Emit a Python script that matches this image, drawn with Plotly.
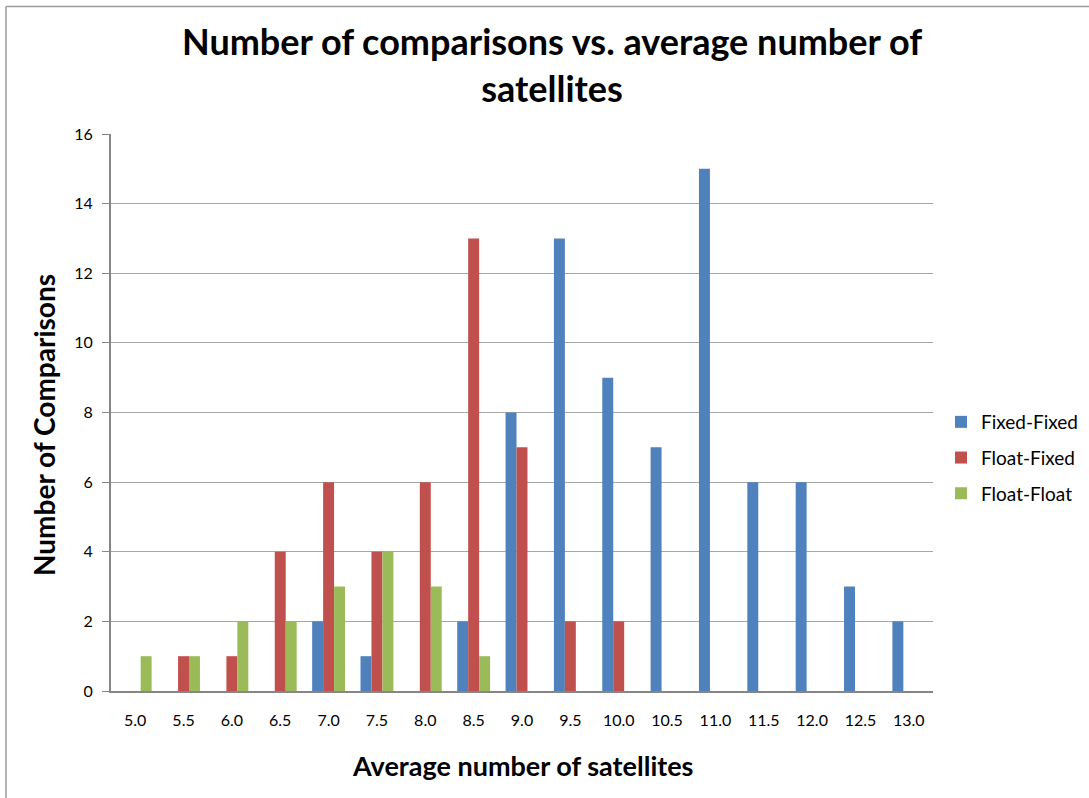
import plotly.graph_objects as go

categories = ["5.0", "5.5", "6.0", "6.5", "7.0", "7.5", "8.0", "8.5", "9.0",
              "9.5", "10.0", "10.5", "11.0", "11.5", "12.0", "12.5", "13.0"]
fixed_fixed = [0, 0, 0, 0, 2, 1, 0, 2, 8, 13, 9, 7, 15, 6, 6, 3, 2]
float_fixed = [0, 1, 1, 4, 6, 4, 6, 13, 7, 2, 2, 0, 0, 0, 0, 0, 0]
float_float = [1, 1, 2, 2, 3, 4, 3, 1, 0, 0, 0, 0, 0, 0, 0, 0, 0]
y_ticks = [0, 2, 4, 6, 8, 10, 12, 14, 16]

W, H = 1089, 798
L, R, T, B = 111, 933, 134, 691  # plot area in pixels

FONT = "Lato"

fig = go.Figure()
for name, vals, col in [
    ("Fixed-Fixed", fixed_fixed, "#4F81BD"),
    ("Float-Fixed", float_fixed, "#C0504D"),
    ("Float-Float", float_float, "#9BBB59"),
]:
    fig.add_trace(go.Bar(x=categories, y=vals, name=name, legendgroup=name,
                         marker=dict(color=col, line=dict(width=0))))


def px_x(p):
    return (p - L) / (R - L)


def px_y(p):
    return (B - p) / (B - T)


fig.update_layout(
    width=W, height=H,
    margin=dict(l=L, r=W - R, t=T, b=H - B, autoexpand=False),
    paper_bgcolor="white", plot_bgcolor="white",
    barmode="group", bargap=0.32, bargroupgap=0,
    font=dict(family=FONT, color="#000000"),
    showlegend=True,
    legend=dict(x=px_x(941), y=px_y(403), xanchor="left", yanchor="top",
                font=dict(family=FONT, size=19), itemwidth=30,
                tracegroupgap=8, bgcolor="rgba(0,0,0,0)"),
    xaxis=dict(type="category", showgrid=False, showline=True,
               linecolor="#868686", linewidth=2, ticks="",
               tickfont=dict(family=FONT, size=16), ticklabelstandoff=14,
               fixedrange=True),
    yaxis=dict(range=[0, 16], tickvals=y_ticks, showgrid=True,
               gridcolor="#A6A6A6", gridwidth=1, showline=True,
               linecolor="#868686", linewidth=2, ticks="outside", ticklen=7,
               tickcolor="#868686", tickfont=dict(family=FONT, size=16),
               zeroline=False, ticklabelstandoff=6, fixedrange=True),
)

# Chart titles
fig.add_annotation(text="<b>Number of comparisons vs. average number of<br>satellites</b>",
                   xref="paper", yref="paper", x=px_x(552), y=px_y(65),
                   xanchor="center", yanchor="middle", showarrow=False,
                   font=dict(family=FONT, size=36), align="center")
fig.add_annotation(text="<b>Average number of satellites</b>",
                   xref="paper", yref="paper", x=px_x(522), y=px_y(765),
                   xanchor="center", yanchor="middle", showarrow=False,
                   font=dict(family=FONT, size=27))
fig.add_annotation(text="<b>Number of Comparisons</b>",
                   xref="paper", yref="paper", x=px_x(44), y=px_y(425),
                   xanchor="center", yanchor="middle", showarrow=False,
                   textangle=-90, font=dict(family=FONT, size=28))

# Outer chart border
fig.add_shape(type="line", xref="paper", yref="paper",
              x0=px_x(6), x1=px_x(6), y0=px_y(6.5), y1=px_y(820),
              line=dict(color="#9A9A9A", width=1.5))
fig.add_shape(type="line", xref="paper", yref="paper",
              x0=px_x(6), x1=px_x(1100), y0=px_y(6.5), y1=px_y(6.5),
              line=dict(color="#9A9A9A", width=1.5))

fig.write_html("out.html")
